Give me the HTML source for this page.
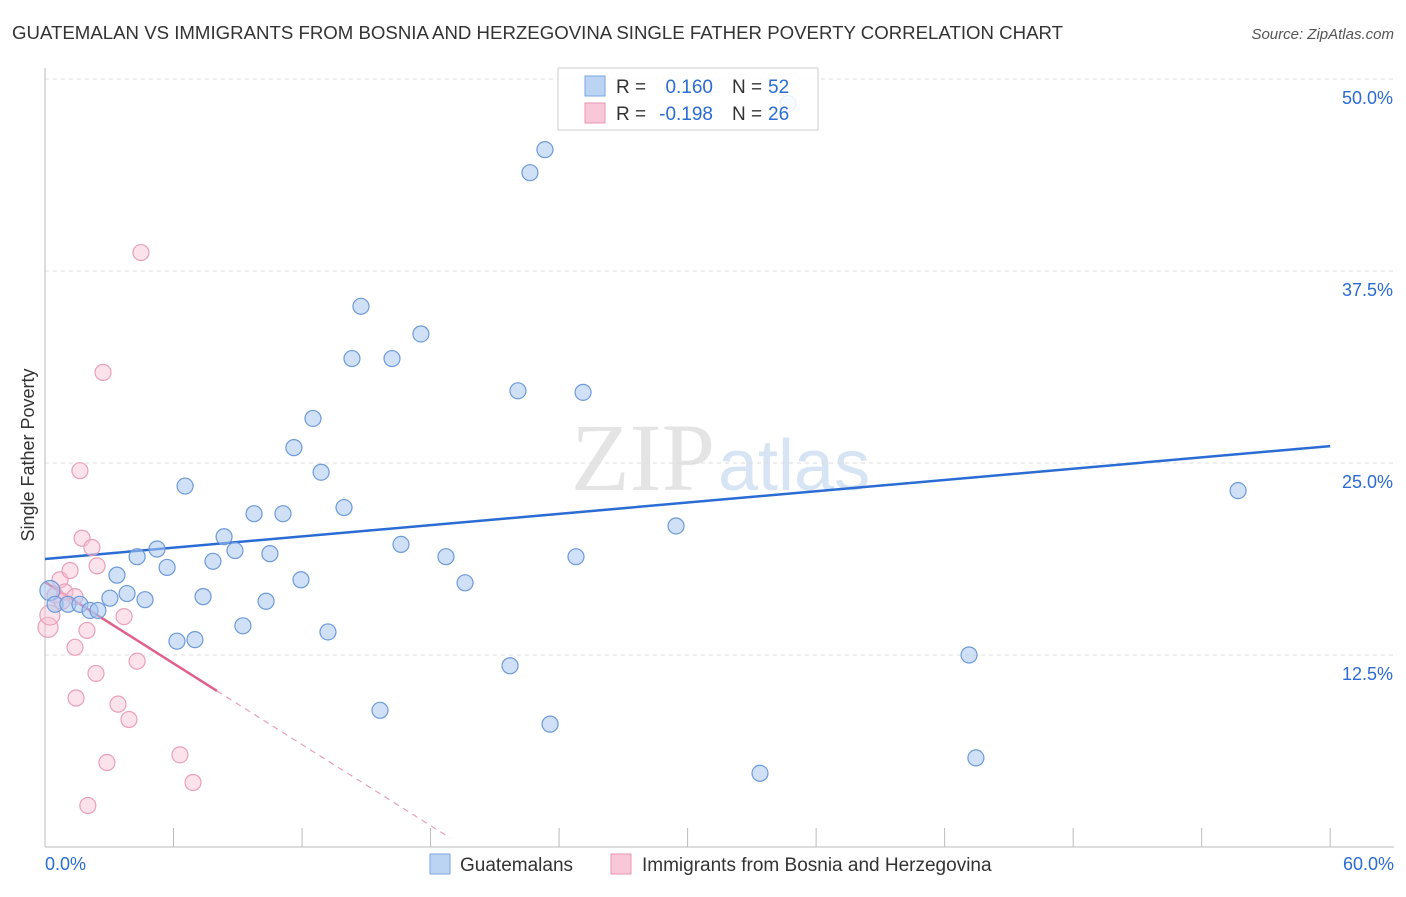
<!DOCTYPE html>
<html><head><meta charset="utf-8"><style>
body{margin:0;background:#fff;font-family:"Liberation Sans",sans-serif}
</style></head><body>
<svg id="c" width="1406" height="892" xmlns="http://www.w3.org/2000/svg">
<text x="12" y="39" font-size="18" fill="#333" textLength="1051" lengthAdjust="spacingAndGlyphs">GUATEMALAN VS IMMIGRANTS FROM BOSNIA AND HERZEGOVINA SINGLE FATHER POVERTY CORRELATION CHART</text>
<text x="1394" y="39" font-size="15" fill="#555" font-style="italic" text-anchor="end">Source: ZipAtlas.com</text>
<text x="715" y="490" font-size="96" fill="#e4e4e4" text-anchor="end" font-family="Liberation Serif,serif">ZIP</text>
<text x="718" y="490" font-size="72" fill="#d6e4f4">atlas</text>
<text transform="translate(34,455) rotate(-90)" font-size="18" fill="#333" text-anchor="middle">Single Father Poverty</text>
<g id="grid"></g><g id="ticks"></g><g id="lines"></g><g id="pts"></g>
<g>
<rect x="558" y="68" width="260" height="62" fill="#fff" fill-opacity="0.85" stroke="#ccc"/>
<rect x="585" y="76" width="20" height="20" fill="#bcd4f4" stroke="#7aa6e0"/>
<rect x="585" y="103" width="20" height="20" fill="#f9c8d8" stroke="#ea95b0"/>
<text x="616" y="93" font-size="19" fill="#333">R =</text>
<text x="713" y="93" font-size="19" fill="#2b6cd4" text-anchor="end">0.160</text>
<text x="732" y="93" font-size="19" fill="#333">N =</text>
<text x="768" y="93" font-size="19" fill="#2b6cd4">52</text>
<text x="616" y="120" font-size="19" fill="#333">R =</text>
<text x="713" y="120" font-size="19" fill="#2b6cd4" text-anchor="end">-0.198</text>
<text x="732" y="120" font-size="19" fill="#333">N =</text>
<text x="768" y="120" font-size="19" fill="#2b6cd4">26</text>
</g>
<g>
<rect x="430" y="854" width="20" height="20" fill="#bcd4f4" stroke="#7aa6e0"/>
<text x="460" y="871" font-size="19" fill="#333">Guatemalans</text>
<rect x="611" y="854" width="20" height="20" fill="#f9c8d8" stroke="#ea95b0"/>
<text x="642" y="871" font-size="19" fill="#333">Immigrants from Bosnia and Herzegovina</text>
</g>
</svg>
<script>
const blueX=[0.23,0.47,1.07,1.63,2.1,2.47,3.03,3.36,3.83,4.3,4.67,5.23,5.7,6.16,6.54,7.0,7.38,7.84,8.36,8.87,9.24,9.76,10.32,10.5,11.11,11.62,11.95,12.51,12.89,13.21,13.96,14.33,14.75,15.64,16.2,16.62,17.55,18.72,19.61,21.71,22.08,22.64,23.34,23.58,24.79,25.12,29.46,33.38,43.14,43.46,55.7,34.69];
const blueY=[16.7,15.8,15.8,15.8,15.4,15.4,16.2,17.7,16.5,18.9,16.1,19.4,18.2,13.4,23.5,13.5,16.3,18.6,20.2,19.3,14.4,21.7,16.0,19.1,21.7,26.0,17.4,27.9,24.4,14.0,22.1,31.8,35.2,8.9,31.8,19.7,33.4,18.9,17.2,11.8,29.7,43.9,45.4,8.0,18.9,29.6,20.9,4.8,12.5,5.8,23.2,48.4];
const pinkX=[0.14,0.23,0.47,0.7,0.93,1.17,1.4,1.63,1.73,1.96,1.4,2.19,2.43,2.38,2.71,2.89,1.45,2.0,3.41,3.69,3.92,4.3,4.48,6.3,6.91,0.8];
const pinkY=[14.3,15.1,16.4,17.4,16.6,18.0,16.3,24.5,20.1,14.1,13.0,19.5,18.3,11.3,30.9,5.5,9.7,2.7,9.3,15.0,8.3,12.1,38.7,6.0,4.2,16.0];
const yTicks=[12.5,25.0,37.5,50.0];
const xTickVals=[0,6,12,18,24,30,36,42,48,54,60];
const blueTrendX=[0,60];
const blueTrendY=[18.75,26.1];
const pinkTrendX=[0,8.03,18.9];
const pinkTrendY=[17.25,10.16,0.6];
const X=v=>45+v*21.42, Y=v=>847-v*15.36;
const NS="http://www.w3.org/2000/svg";
function mk(p,t,a){const e=document.createElementNS(NS,t);for(const k in a)e.setAttribute(k,a[k]);document.getElementById(p).appendChild(e);return e;}
yTicks.forEach(v=>{
 const l=mk('grid','line',{x1:45,x2:1394,y1:Y(v),y2:Y(v),stroke:'#ddd','stroke-dasharray':'4,4'});
 
 
 const t=mk('ticks','text',{x:1393,y:Y(v)+25,'font-size':18,fill:'#2b6cd4','text-anchor':'end'});t.textContent=v.toFixed(1)+'%';
 
 
});
const ax=mk('grid','line',{x1:45,x2:1394,y1:847,y2:847,stroke:'#bbb'});


const ay=mk('grid','line',{x1:45,x2:45,y1:68,y2:847,stroke:'#bbb'});


xTickVals.forEach(v=>{const l=mk('ticks','line',{x1:X(v),x2:X(v),y1:828,y2:847,stroke:'#bbb'});
 
 });
[[0,'0.0%','start',45],[60,'60.0%','end',1394]].forEach(a=>{const t=mk('ticks','text',{x:a[3],y:870,'font-size':18,fill:'#2b6cd4','text-anchor':a[2]});t.textContent=a[1];
 
 });
const bl=mk('lines','line',{x1:X(blueTrendX[0]),y1:Y(blueTrendY[0]),x2:X(blueTrendX[1]),y2:Y(blueTrendY[1]),stroke:'#2b6cd4','stroke-width':2.5});


const pl=mk('lines','line',{x1:X(pinkTrendX[0]),y1:Y(pinkTrendY[0]),x2:X(pinkTrendX[1]),y2:Y(pinkTrendY[1]),stroke:'#e0608a','stroke-width':2.5});


const pd=mk('lines','line',{x1:X(pinkTrendX[1]),y1:Y(pinkTrendY[1]),x2:X(pinkTrendX[2]),y2:Y(pinkTrendY[2]),stroke:'#e8a0b8','stroke-width':1.2,'stroke-dasharray':'6,5'});


pinkX.forEach((x,i)=>{const c=mk('pts','circle',{cx:X(x),cy:Y(pinkY[i]),r:i<2?10:8,fill:'rgba(249,190,210,0.45)',stroke:'#e9a0b8','stroke-width':1.2});
 
 });
blueX.forEach((x,i)=>{const c=mk('pts','circle',{cx:X(x),cy:Y(blueY[i]),r:i==0?10:8,fill:'rgba(170,200,240,0.55)',stroke:'#6d9ad8','stroke-width':1.2});
 
 });
</script>
</body></html>
